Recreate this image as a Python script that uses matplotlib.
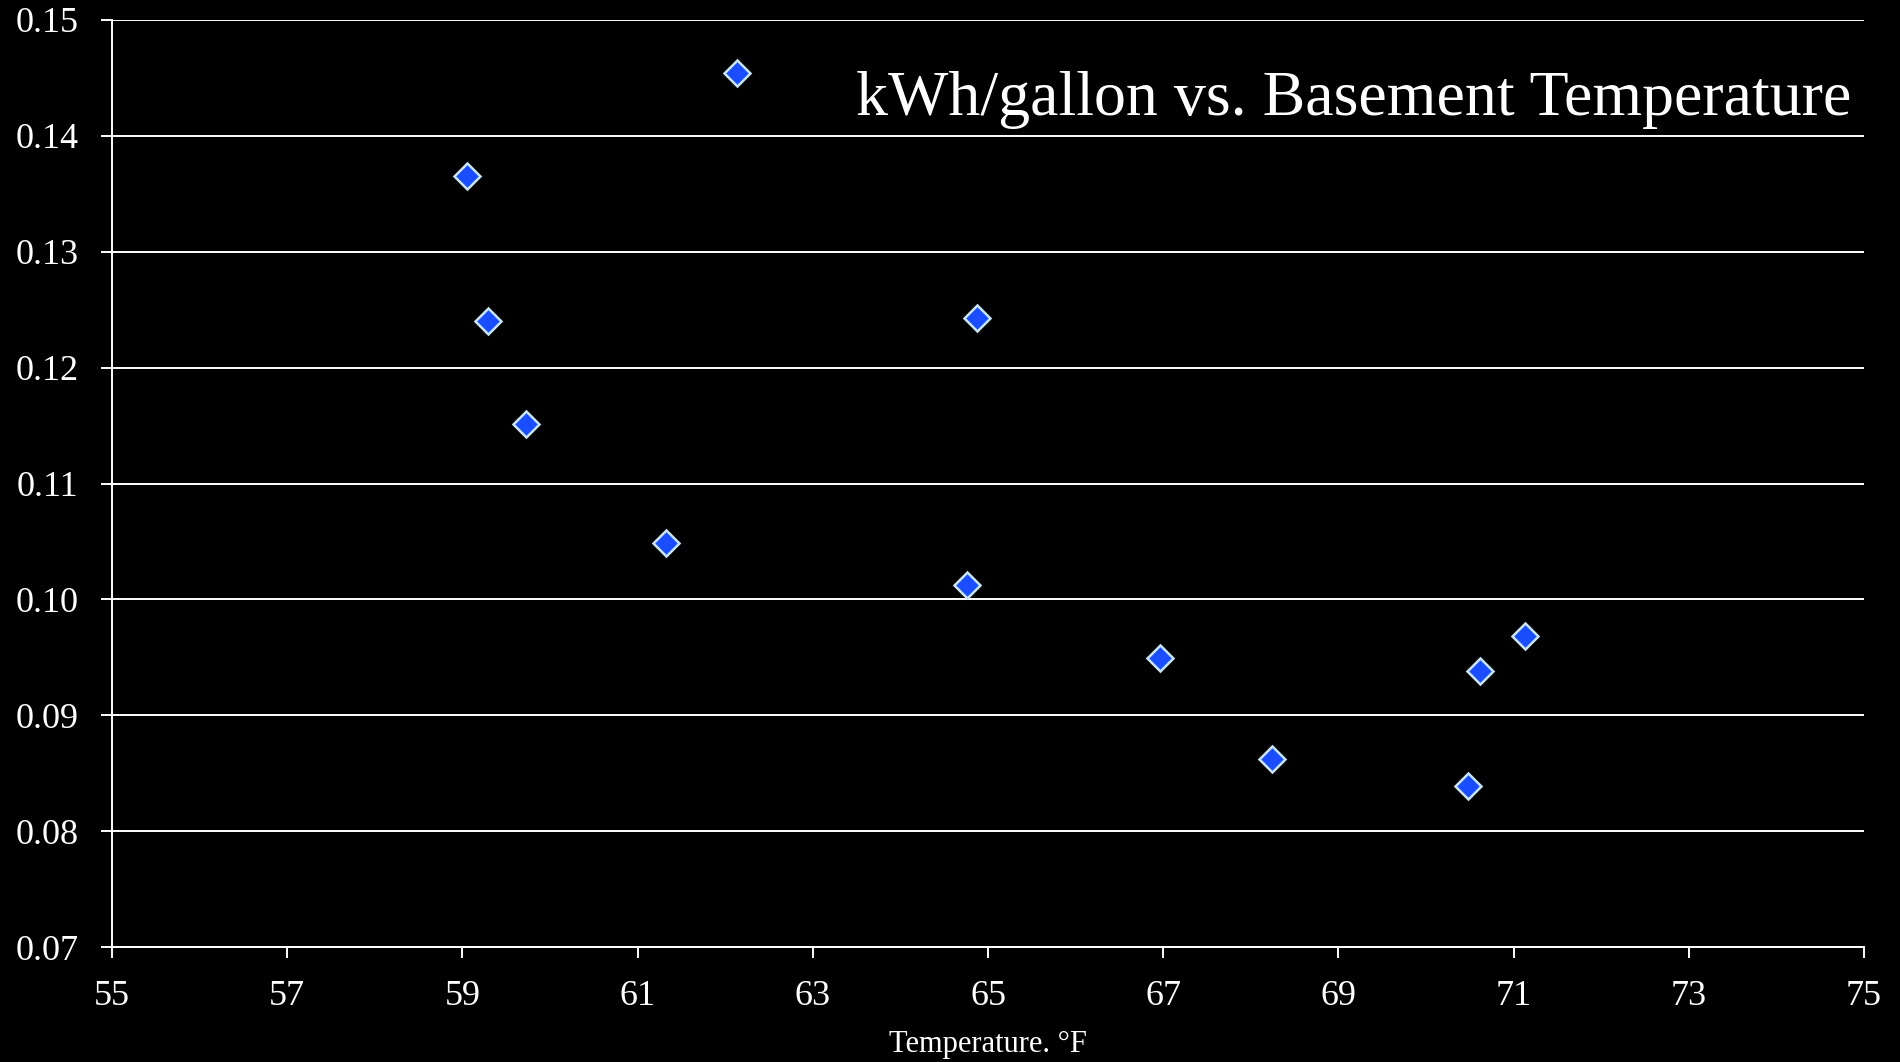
import matplotlib
matplotlib.use("Agg")
import matplotlib.pyplot as plt
import numpy as np

# Data
temperature_f = [59.05, 59.29, 59.73, 61.32, 62.14, 64.88, 64.76, 66.96, 68.24, 70.48, 70.62, 71.13]
kwh_per_gallon = [0.1365, 0.1240, 0.1151, 0.1049, 0.1454, 0.1243, 0.1012, 0.0949, 0.0862, 0.0839, 0.0938, 0.0968]

x_ticks = list(range(55, 76, 2))
y_ticks = [0.07, 0.08, 0.09, 0.10, 0.11, 0.12, 0.13, 0.14, 0.15]

title_text = "kWh/gallon vs. Basement Temperature"
xlabel_text = "Temperature. \u00b0F"

plt.rcParams['font.family'] = ['Liberation Serif', 'DejaVu Serif']

fig = plt.figure(figsize=(19, 10.62), dpi=100, facecolor='black')
ax = fig.add_axes([112/1900, 1 - 947/1062, 1752/1900, (947-20)/1062])
ax.set_facecolor('black')

ax.set_xlim(55, 75)
ax.set_ylim(0.07, 0.15)
ax.set_xticks(x_ticks)
ax.set_yticks(y_ticks)
ax.set_yticklabels([f"{v:.2f}" for v in y_ticks])

ax.grid(axis='y', color='white', linewidth=1.4)
ax.set_axisbelow(True)

for s in ['top', 'right']:
    ax.spines[s].set_visible(False)
for s in ['left', 'bottom']:
    ax.spines[s].set_color('white')
    ax.spines[s].set_linewidth(1.4)

ax.tick_params(axis='both', colors='white', labelsize=26, length=8, width=1.4, direction='out')
ax.tick_params(axis='y', pad=16)
ax.tick_params(axis='x', pad=16)

ax.plot(temperature_f, kwh_per_gallon, linestyle='none', marker='D', markersize=13,
        markerfacecolor='#1a4dff', markeredgecolor='#c8e4f4', markeredgewidth=1.8, zorder=3,
        clip_on=False)

ax.text(0.9926, 0.8975, title_text, transform=ax.transAxes, ha='right', va='baseline',
        color='white', fontsize=46)

ax.set_xlabel(xlabel_text, color='white', fontsize=22, labelpad=12)

fig.savefig('out.png', dpi=100, facecolor='black')
